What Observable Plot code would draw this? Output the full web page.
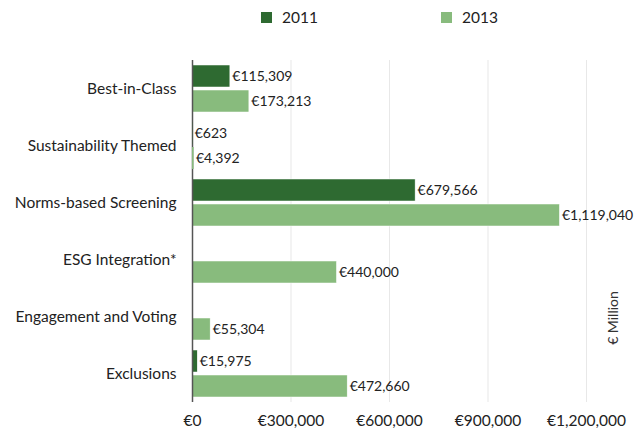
<!DOCTYPE html>
<html>
<head>
<meta charset="utf-8">
<script src="https://cdn.jsdelivr.net/npm/d3@7"></script>
<script src="https://cdn.jsdelivr.net/npm/@observablehq/plot@0.6"></script>
<style>
  html, body { margin: 0; padding: 0; background: #fff; }
  body { width: 634px; height: 428px; overflow: hidden; font-family: Lato, sans-serif; }
  #legend { position: relative; height: 30px; }
  .item { position: absolute; top: 8px; display: flex; align-items: center; font-size: 15.5px; color: #222; }
  .sw { width: 11px; height: 11px; margin-right: 10px; }
  #unit { position: absolute; left: 612px; top: 318px; transform: translate(-50%, -50%) rotate(-90deg); font-size: 14px; color: #333; white-space: nowrap; }
  #chart svg { overflow: visible; }
</style>
</head>
<body>
<div id="legend"></div>
<div id="chart"></div>
<div id="unit">€ Million</div>
<script>
const categories = ["Best-in-Class", "Sustainability Themed", "Norms-based Screening", "ESG Integration*", "Engagement and Voting", "Exclusions"];
const years = ["2011", "2013"];
const values2011 = [115309, 623, 679566, null, null, 15975];
const values2013 = [173213, 4392, 1119040, 440000, 55304, 472660];
const xTicks = [0, 300000, 600000, 900000, 1200000];
const colors = ["#2e6a31", "#88bb7d"];

const data = [];
categories.forEach((c, i) => {
  if (values2011[i] != null) data.push({category: c, year: "2011", value: values2011[i]});
  if (values2013[i] != null) data.push({category: c, year: "2013", value: values2013[i]});
});

const fmt = d => "€" + d3.format(",")(d);

// legend
const legend = document.getElementById("legend");
const legendX = [261, 441];
years.forEach((y, i) => {
  const it = document.createElement("div");
  it.className = "item";
  it.style.left = legendX[i] + "px";
  it.innerHTML = `<span class="sw" style="background:${colors[i]}"></span><span>${y}</span>`;
  legend.appendChild(it);
});

const chart = Plot.plot({
  width: 634,
  height: 398,
  marginLeft: 192,
  marginRight: 48,
  marginTop: 28,
  marginBottom: 25,
  style: {fontFamily: "Lato, sans-serif", fontSize: "15.5px", color: "#222", background: "#fff", overflow: "visible"},
  x: {domain: [0, 1200000], ticks: xTicks, tickFormat: fmt, tickSize: 0, tickPadding: 12, label: null, grid: true},
  y: {domain: years, paddingInner: 0.12, paddingOuter: 0.2, axis: null},
  fy: {domain: categories, padding: 0, label: null, tickSize: 0, tickPadding: 16},
  color: {domain: years, range: colors},
  marks: [
    Plot.barX(data, {x: "value", y: "year", fy: "category", fill: "year", stroke: "#fff", strokeWidth: 0.5}),
    Plot.ruleX([0], {stroke: "#555", strokeWidth: 1.5}),
    Plot.barX(data, {x: "value", y: "year", fy: "category", fill: "year", filter: d => d.value < 10000}),
    Plot.text(data, {x: "value", y: "year", fy: "category", text: d => fmt(d.value), textAnchor: "start", dx: 2, fill: "#222", fontSize: 14})
  ]
});
document.getElementById("chart").appendChild(chart);
</script>
</body>
</html>
